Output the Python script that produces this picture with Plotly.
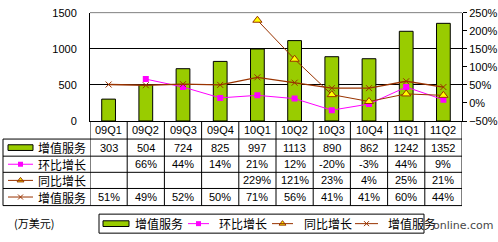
import plotly.graph_objects as go

cats = ["09Q1", "09Q2", "09Q3", "09Q4", "10Q1", "10Q2", "10Q3", "10Q4", "11Q1", "11Q2"]
revenue = [303, 504, 724, 825, 997, 1113, 890, 862, 1242, 1352]
qoq = [None, 66, 44, 14, 21, 12, -20, -3, 44, 9]
yoy = [None, None, None, None, 229, 121, 23, 4, 25, 21]
share = [51, 49, 52, 50, 71, 56, 41, 41, 60, 44]
names = ["增值服务", "环比增长", "同比增长", "增值服务"]
unit_label = "(万美元)"
watermark = "online.com"

W, H = 498, 242
GREEN = "#99CC00"
MAG = "#FF00FF"
BROWN = "#993300"
YEL = "#FFFF00"
NUMF = "Liberation Sans, Noto Sans CJK SC"
CJKF = "Noto Sans CJK SC"

fig = go.Figure()

# main data
fig.add_trace(go.Bar(x=cats, y=revenue, marker=dict(color=GREEN, line=dict(color="black", width=1)),
                     width=0.37, name=names[0], showlegend=False))
fig.add_trace(go.Scatter(x=cats, y=qoq, yaxis="y2", mode="lines+markers", name=names[1],
                         line=dict(color=MAG, width=1),
                         marker=dict(symbol="square", size=6, color=MAG), showlegend=False))
fig.add_trace(go.Scatter(x=cats, y=yoy, yaxis="y2", mode="lines+markers", name=names[2],
                         line=dict(color=BROWN, width=1),
                         marker=dict(symbol="triangle-up", size=8, color=YEL, line=dict(color=BROWN, width=1)),
                         showlegend=False))
fig.add_trace(go.Scatter(x=cats, y=share, yaxis="y2", mode="lines+markers", name=names[3],
                         line=dict(color=BROWN, width=1.3),
                         marker=dict(symbol="x-thin", size=6, color=BROWN, line=dict(color=BROWN, width=1)),
                         showlegend=False))

PL, PR, PT, PB = 90, 462, 7, 121
rows_y = [140, 158, 175, 192, 210]  # horizontal table lines (px)
shapes = []
ann = []

def sh(x0, y0, x1, y1, color="black", w=1, xref="x3"):
    shapes.append(dict(type="line", x0=x0, y0=y0, x1=x1, y1=y1, xref=xref, yref="y3",
                       line=dict(color=color, width=w)))

# top gray line of plot
sh(PL, PT, PR, PT, color="#808080")

# table horizontal lines
for yy in rows_y:
    sh(3, yy, PR, yy)
sh(3, rows_y[0], 3, rows_y[-1])
# vertical lines between columns (category axis positions)
for i in range(len(cats) + 1):
    shapes.append(dict(type="line", x0=i - 0.5, x1=i - 0.5, y0=PB, y1=rows_y[-1], xref="x", yref="y3",
                       line=dict(color="black", width=1)))

# header & cell text
hdr_y = (PB + rows_y[0]) / 2
for c in cats:
    ann.append(dict(x=c, y=hdr_y, xref="x", yref="y3", text=c, showarrow=False,
                    font=dict(family=NUMF, size=11, color="black")))

def pct(v):
    return "" if v is None else f"{v}%"

cell_rows = [[str(v) for v in revenue], [pct(v) for v in qoq], [pct(v) for v in yoy], [pct(v) for v in share]]
for r, vals in enumerate(cell_rows):
    cy = (rows_y[r] + rows_y[r + 1]) / 2
    for c, t in zip(cats, vals):
        if t:
            ann.append(dict(x=c, y=cy, xref="x", yref="y3", text=t, showarrow=False,
                            font=dict(family=NUMF, size=11, color="black")))

# icon helper (legend keys)
icon_traces = []

def icon(kind, x0, x1, cy):
    if kind == 0:
        shapes.append(dict(type="rect", x0=x0, x1=x1, y0=cy - 3, y1=cy + 3, xref="x3", yref="y3",
                           fillcolor=GREEN, line=dict(color="black", width=1)))
        return
    col = MAG if kind == 1 else BROWN
    sh(x0, cy, x1, cy, color=col)
    xm = (x0 + x1) / 2
    if kind == 1:
        m = dict(symbol="square", size=5, color=MAG)
    elif kind == 2:
        m = dict(symbol="triangle-up", size=6, color=YEL, line=dict(color=BROWN, width=1))
    else:
        m = dict(symbol="x-thin", size=5, color=BROWN, line=dict(color=BROWN, width=1))
    icon_traces.append(go.Scatter(x=[xm], y=[cy], xaxis="x3", yaxis="y3", mode="markers",
                                  marker=m, showlegend=False, hoverinfo="skip"))

for r in range(4):
    cy = (rows_y[r] + rows_y[r + 1]) / 2
    icon(r, 8, 33, cy)
    ann.append(dict(x=36, y=cy, xref="x3", yref="y3", text=names[r], showarrow=False, xanchor="left",
                    font=dict(family=CJKF, size=12, color="black")))

# bottom legend
shapes.append(dict(type="rect", x0=99, x1=424, y0=219, y1=239, xref="x3", yref="y3",
                   line=dict(color="black", width=1), fillcolor="rgba(0,0,0,0)"))
leg_y = 229
leg_pos = [(103, 129, 133), (188, 209, 217), (272, 293, 302), (355, 378, 386)]
for k, (a, b, tx) in enumerate(leg_pos):
    icon(k, a, b, leg_y)
    ann.append(dict(x=tx, y=leg_y, xref="x3", yref="y3", text=names[k], showarrow=False, xanchor="left",
                    font=dict(family=CJKF, size=12, color="black")))

ann.append(dict(x=12, y=228, xref="x3", yref="y3", text=unit_label, showarrow=False, xanchor="left",
                font=dict(family=CJKF, size=11, color="black")))
ann.append(dict(x=496, y=231, xref="x3", yref="y3", text=watermark, showarrow=False, xanchor="right",
                font=dict(family="DejaVu Sans", size=11, color="#333333"), opacity=0.9))

for t in icon_traces:
    fig.add_trace(t)

fig.update_layout(
    width=W, height=H, autosize=False,
    margin=dict(l=0, r=0, t=0, b=0),
    paper_bgcolor="white", plot_bgcolor="rgba(0,0,0,0)",
    bargap=0.63,
    xaxis=dict(domain=[PL / W, PR / W], range=[-0.5, 9.5], showticklabels=False, ticks="",
               showline=True, linecolor="black", linewidth=1, showgrid=False, zeroline=False,
               anchor="y", fixedrange=True),
    yaxis=dict(domain=[1 - PB / H, 1 - PT / H], range=[0, 1500], dtick=500, showgrid=True,
               gridcolor="black", gridwidth=1, showline=True, linecolor="black", linewidth=1,
               zeroline=False, ticks="", ticklabelstandoff=10,
               tickfont=dict(family=NUMF, size=11, color="black"), anchor="x"),
    yaxis2=dict(domain=[1 - PB / H, 1 - PT / H], range=[-50, 250], dtick=50, ticksuffix="%",
                overlaying="y", side="right", anchor="x", showgrid=False, zeroline=False,
                showline=True, linecolor="black", linewidth=1, ticks="outside", ticklen=4,
                tickcolor="black", tickfont=dict(family=NUMF, size=11, color="black")),
    xaxis3=dict(domain=[0, 1], range=[0, W], visible=False, anchor="y3", fixedrange=True),
    yaxis3=dict(domain=[0, 1], range=[H, 0], visible=False, anchor="x3", fixedrange=True),
    shapes=shapes, annotations=ann,
)

fig.write_html("out.html")
